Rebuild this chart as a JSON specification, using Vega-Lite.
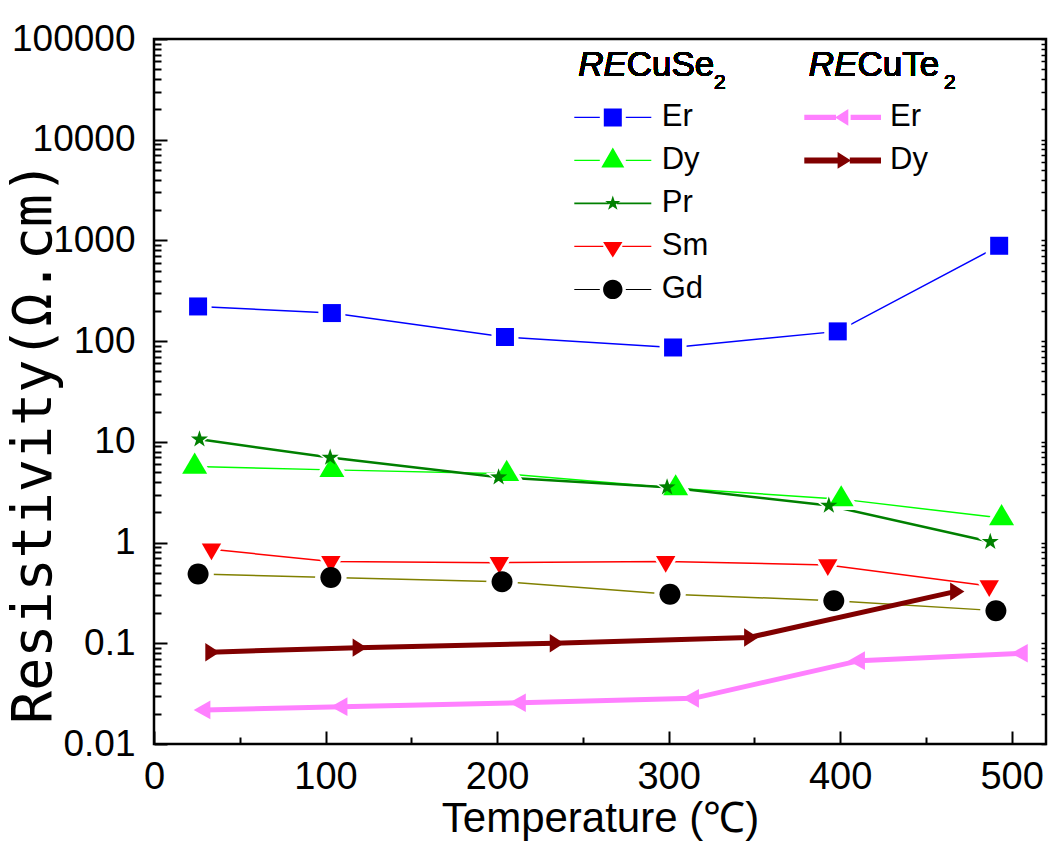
{
  "$schema": "https://vega.github.io/schema/vega-lite/v6.json",
  "width": 892,
  "height": 705,
  "autosize": {"type": "none"},
  "padding": {"left": 154, "top": 39, "right": 5, "bottom": 97},
  "background": "white",
  "config": {
    "view": {"stroke": "black", "strokeWidth": 2.5},
    "font": "Liberation Sans"
  },
  "data": {
    "values": [
      {"group": "Se", "element": "Er", "series": "Se-Er", "temp": 25.7, "rho": 221},
      {"group": "Se", "element": "Er", "series": "Se-Er", "temp": 103.7, "rho": 190},
      {"group": "Se", "element": "Er", "series": "Se-Er", "temp": 204.6, "rho": 110},
      {"group": "Se", "element": "Er", "series": "Se-Er", "temp": 302.6, "rho": 86.5},
      {"group": "Se", "element": "Er", "series": "Se-Er", "temp": 398.6, "rho": 125},
      {"group": "Se", "element": "Er", "series": "Se-Er", "temp": 492.7, "rho": 885},
      {"group": "Se", "element": "Dy", "series": "Se-Dy", "temp": 23.7, "rho": 5.69},
      {"group": "Se", "element": "Dy", "series": "Se-Dy", "temp": 103.7, "rho": 5.27},
      {"group": "Se", "element": "Dy", "series": "Se-Dy", "temp": 205.6, "rho": 4.81},
      {"group": "Se", "element": "Dy", "series": "Se-Dy", "temp": 304.1, "rho": 3.47},
      {"group": "Se", "element": "Dy", "series": "Se-Dy", "temp": 400.6, "rho": 2.7},
      {"group": "Se", "element": "Dy", "series": "Se-Dy", "temp": 494.1, "rho": 1.75},
      {"group": "Se", "element": "Pr", "series": "Se-Pr", "temp": 26.5, "rho": 10.6},
      {"group": "Se", "element": "Pr", "series": "Se-Pr", "temp": 102.7, "rho": 6.98},
      {"group": "Se", "element": "Pr", "series": "Se-Pr", "temp": 200.9, "rho": 4.46},
      {"group": "Se", "element": "Pr", "series": "Se-Pr", "temp": 299.1, "rho": 3.55},
      {"group": "Se", "element": "Pr", "series": "Se-Pr", "temp": 393.4, "rho": 2.33},
      {"group": "Se", "element": "Pr", "series": "Se-Pr", "temp": 487.5, "rho": 1.02},
      {"group": "Se", "element": "Sm", "series": "Se-Sm", "temp": 33.5, "rho": 0.859},
      {"group": "Se", "element": "Sm", "series": "Se-Sm", "temp": 103.1, "rho": 0.647},
      {"group": "Se", "element": "Sm", "series": "Se-Sm", "temp": 201.3, "rho": 0.632},
      {"group": "Se", "element": "Sm", "series": "Se-Sm", "temp": 298.3, "rho": 0.647},
      {"group": "Se", "element": "Sm", "series": "Se-Sm", "temp": 392.8, "rho": 0.6},
      {"group": "Se", "element": "Sm", "series": "Se-Sm", "temp": 486.9, "rho": 0.371},
      {"group": "Se", "element": "Gd", "series": "Se-Gd", "temp": 25.7, "rho": 0.488},
      {"group": "Se", "element": "Gd", "series": "Se-Gd", "temp": 103.1, "rho": 0.449},
      {"group": "Se", "element": "Gd", "series": "Se-Gd", "temp": 202.9, "rho": 0.409},
      {"group": "Se", "element": "Gd", "series": "Se-Gd", "temp": 300.8, "rho": 0.307},
      {"group": "Se", "element": "Gd", "series": "Se-Gd", "temp": 396.3, "rho": 0.265},
      {"group": "Se", "element": "Gd", "series": "Se-Gd", "temp": 490.8, "rho": 0.211},
      {"group": "Te", "element": "Er", "series": "Te-Er", "temp": 29.6, "rho": 0.0218},
      {"group": "Te", "element": "Er", "series": "Te-Er", "temp": 109.5, "rho": 0.0235},
      {"group": "Te", "element": "Er", "series": "Te-Er", "temp": 213.5, "rho": 0.0257},
      {"group": "Te", "element": "Er", "series": "Te-Er", "temp": 314.4, "rho": 0.0284},
      {"group": "Te", "element": "Er", "series": "Te-Er", "temp": 411.2, "rho": 0.0672},
      {"group": "Te", "element": "Er", "series": "Te-Er", "temp": 506.1, "rho": 0.0796},
      {"group": "Te", "element": "Dy", "series": "Te-Dy", "temp": 32.7, "rho": 0.0815},
      {"group": "Te", "element": "Dy", "series": "Te-Dy", "temp": 118.6, "rho": 0.0905},
      {"group": "Te", "element": "Dy", "series": "Te-Dy", "temp": 233.5, "rho": 0.1},
      {"group": "Te", "element": "Dy", "series": "Te-Dy", "temp": 346.8, "rho": 0.114},
      {"group": "Te", "element": "Dy", "series": "Te-Dy", "temp": 466.9, "rho": 0.326}
    ]
  },
  "resolve": {
    "scale": {"color": "independent", "shape": "independent"},
    "axis": {"y": "independent"}
  },
  "layer": [
    {
      "transform": [{"filter": "datum.group === 'Se' && datum.element !== 'Pr'"}],
      "mark": {"type": "line", "strokeWidth": 1.5},
      "encoding": {
        "x": {
          "field": "temp", "type": "quantitative",
          "scale": {"domain": [0, 520], "nice": false, "zero": false},
          "axis": {
            "orient": "bottom",
            "values": [0, 50, 100, 150, 200, 250, 300, 350, 400, 450, 500],
            "labelExpr": "datum.value % 100 === 0 ? datum.label : ''",
            "tickSize": {"condition": {"test": "datum.value % 100 === 0", "value": -13}, "value": -7},
            "tickWidth": 2, "tickColor": "black",
            "domain": false, "grid": false,
            "labelFont": "Liberation Sans", "labelFontSize": 38, "labelColor": "black",
            "labelBaseline": "alphabetic", "labelPadding": 57,
            "labelFlush": false, "labelOverlap": false,
            "title": "Temperature (℃)",
            "titleFont": "Liberation Sans", "titleFontSize": 42, "titleFontWeight": "normal",
            "titleColor": "black", "titleBaseline": "alphabetic", "titleY": 87
          }
        },
        "y": {
          "field": "rho", "type": "quantitative",
          "scale": {"type": "log", "domain": [0.01, 100000], "nice": false},
          "axis": {
            "orient": "left",
            "values": [0.01, 0.02, 0.03, 0.04, 0.05, 0.06, 0.07, 0.08, 0.09, 0.1, 0.2, 0.3, 0.4, 0.5, 0.6, 0.7, 0.8, 0.9, 1, 2, 3, 4, 5, 6, 7, 8, 9, 10, 20, 30, 40, 50, 60, 70, 80, 90, 100, 200, 300, 400, 500, 600, 700, 800, 900, 1000, 2000, 3000, 4000, 5000, 6000, 7000, 8000, 9000, 10000, 20000, 30000, 40000, 50000, 60000, 70000, 80000, 90000, 100000],
            "format": "~g",
            "labelExpr": "abs(log(datum.value)/LN10 - round(log(datum.value)/LN10)) < 0.001 ? datum.label : ''",
            "tickSize": {"condition": {"test": "abs(log(datum.value)/LN10 - round(log(datum.value)/LN10)) < 0.001", "value": -13}, "value": -7},
            "tickWidth": 2, "tickColor": "black",
            "domain": false, "grid": false,
            "labelFont": "Liberation Sans", "labelFontSize": 37, "labelColor": "black",
            "labelPadding": 32, "labelFlush": false, "labelOverlap": false,
            "title": "Resistivity(Ω.cm)",
            "titleFont": "DejaVu Sans Mono", "titleFontSize": 55, "titleFontWeight": "normal",
            "titleColor": "black", "titleAngle": -90, "titleBaseline": "alphabetic",
            "titleAlign": "center", "titleX": -104, "titleY": 403
          }
        },
        "color": {
          "field": "series", "type": "nominal", "legend": null,
          "scale": {
            "domain": ["Se-Er", "Se-Dy", "Se-Pr", "Se-Sm", "Se-Gd", "Te-Er", "Te-Dy"],
            "range": ["#0000ff", "#00ff00", "#008000", "#ff0000", "#808000", "#ff80ff", "#800000"]
          }
        }
      }
    },
    {
      "transform": [{"filter": "datum.series === 'Se-Pr'"}],
      "mark": {"type": "line", "strokeWidth": 2.5, "color": "#008000"},
      "encoding": {
        "x": {"field": "temp", "type": "quantitative"},
        "y": {"field": "rho", "type": "quantitative", "axis": null}
      }
    },
    {
      "transform": [{"filter": "datum.group === 'Se'"}],
      "mark": {"type": "point", "filled": true, "color": "white", "opacity": 1, "strokeWidth": 0, "size": 900},
      "encoding": {
        "x": {"field": "temp", "type": "quantitative"},
        "y": {"field": "rho", "type": "quantitative", "axis": null},
        "shape": {
          "field": "series", "type": "nominal", "legend": null,
          "scale": {
            "domain": ["Se-Er", "Se-Dy", "Se-Pr", "Se-Sm", "Se-Gd"],
            "range": [
              "M-0.9,-0.9H0.9V0.9H-0.9Z",
              "M0,-1.4L1.25,0.72H-1.25Z",
              "M0,-0.9L0.206,-0.283L0.856,-0.278L0.333,0.108L0.529,0.728L0,0.35L-0.529,0.728L-0.333,0.108L-0.856,-0.278L-0.206,-0.283Z",
              "M-0.97,-0.56H0.97L0,1.11Z",
              "M-1.05,0A1.05,1.05,0,1,1,1.05,0A1.05,1.05,0,1,1,-1.05,0Z"
            ]
          }
        }
      }
    },
    {
      "transform": [{"filter": "datum.group === 'Se'"}],
      "mark": {"type": "point", "filled": true, "opacity": 1, "strokeWidth": 0, "size": 400},
      "encoding": {
        "x": {"field": "temp", "type": "quantitative"},
        "y": {
          "field": "rho", "type": "quantitative",
          "axis": {
            "orient": "right",
            "values": [0.01, 0.02, 0.03, 0.04, 0.05, 0.06, 0.07, 0.08, 0.09, 0.1, 0.2, 0.3, 0.4, 0.5, 0.6, 0.7, 0.8, 0.9, 1, 2, 3, 4, 5, 6, 7, 8, 9, 10, 20, 30, 40, 50, 60, 70, 80, 90, 100, 200, 300, 400, 500, 600, 700, 800, 900, 1000, 2000, 3000, 4000, 5000, 6000, 7000, 8000, 9000, 10000, 20000, 30000, 40000, 50000, 60000, 70000, 80000, 90000, 100000],
            "labels": false, "tickSize": -5, "tickWidth": 1.5, "tickColor": "black",
            "domain": false, "grid": false, "title": null
          }
        },
        "shape": {
          "field": "series", "type": "nominal", "legend": null,
          "scale": {
            "domain": ["Se-Er", "Se-Dy", "Se-Pr", "Se-Sm", "Se-Gd"],
            "range": [
              "M-0.9,-0.9H0.9V0.9H-0.9Z",
              "M0,-1.4L1.25,0.72H-1.25Z",
              "M0,-0.9L0.206,-0.283L0.856,-0.278L0.333,0.108L0.529,0.728L0,0.35L-0.529,0.728L-0.333,0.108L-0.856,-0.278L-0.206,-0.283Z",
              "M-0.97,-0.56H0.97L0,1.11Z",
              "M-1.05,0A1.05,1.05,0,1,1,1.05,0A1.05,1.05,0,1,1,-1.05,0Z"
            ]
          }
        },
        "color": {
          "field": "series", "type": "nominal", "legend": null,
          "scale": {
            "domain": ["Se-Er", "Se-Dy", "Se-Pr", "Se-Sm", "Se-Gd"],
            "range": ["#0000ff", "#00ff00", "#008000", "#ff0000", "#000000"]
          }
        }
      }
    },
    {
      "transform": [{"filter": "datum.group === 'Te'"}],
      "mark": {"type": "line", "strokeWidth": 5},
      "encoding": {
        "x": {"field": "temp", "type": "quantitative"},
        "y": {"field": "rho", "type": "quantitative", "axis": null},
        "color": {
          "field": "series", "type": "nominal", "legend": null,
          "scale": {"domain": ["Te-Er", "Te-Dy"], "range": ["#ff80ff", "#800000"]}
        }
      }
    },
    {
      "transform": [{"filter": "datum.group === 'Te'"}],
      "mark": {"type": "point", "filled": true, "opacity": 1, "strokeWidth": 0, "size": 400},
      "encoding": {
        "x": {"field": "temp", "type": "quantitative"},
        "y": {"field": "rho", "type": "quantitative", "axis": null},
        "shape": {
          "field": "series", "type": "nominal", "legend": null,
          "scale": {
            "domain": ["Te-Er", "Te-Dy"],
            "range": ["M-1.11,0L0.56,-0.93V0.93Z", "M0.95,0L-0.48,-0.92V0.92Z"]
          }
        },
        "color": {
          "field": "series", "type": "nominal", "legend": null,
          "scale": {"domain": ["Te-Er", "Te-Dy"], "range": ["#ff80ff", "#800000"]}
        }
      }
    },
    {
      "transform": [{"filter": "datum.group === 'Se'"}],
      "mark": {"type": "point", "filled": true, "opacity": 0},
      "encoding": {
        "shape": {
          "field": "element", "type": "nominal",
          "scale": {
            "domain": ["Er", "Dy", "Pr", "Sm", "Gd"],
            "range": [
              "M-1.55,-0.06H1.0V0.06H-1.55Z M1.4,-0.9H3.2V0.9H1.4Z M3.6,-0.06H6.15V0.06H3.6Z",
              "M-1.55,-0.06H1.0V0.06H-1.55Z M2.3,-1.3L3.45,0.7H1.15Z M3.6,-0.06H6.15V0.06H3.6Z",
              "M-1.55,-0.09H1.9V0.09H-1.55Z M2.3,-0.8L2.48,-0.248L3.061,-0.247L2.591,0.095L2.77,0.647L2.3,0.306L1.83,0.647L2.009,0.095L1.539,-0.247L2.12,-0.248Z M2.7,-0.09H6.15V0.09H2.7Z",
              "M-1.55,-0.06H1.35V0.06H-1.55Z M1.33,-0.45H3.27L2.3,1.12Z M3.25,-0.06H6.15V0.06H3.25Z",
              "M-1.55,-0.05H1.0V0.05H-1.55Z M1.33,0A0.97,0.97,0,1,1,3.27,0A0.97,0.97,0,1,1,1.33,0Z M3.6,-0.05H6.15V0.05H3.6Z"
            ]
          },
          "legend": {
            "orient": "none", "legendX": 420.3, "legendY": 62.9, "title": null, "padding": 0,
            "symbolSize": 400, "symbolStrokeWidth": 0, "symbolOpacity": 1,
            "labelFont": "Liberation Sans", "labelFontSize": 31, "labelColor": "black",
            "labelOffset": 56.4, "rowPadding": 11
          }
        },
        "color": {
          "field": "element", "type": "nominal",
          "scale": {
            "domain": ["Er", "Dy", "Pr", "Sm", "Gd"],
            "range": ["#0000ff", "#00ff00", "#008000", "#ff0000", "#000000"]
          },
          "legend": {
            "orient": "none", "legendX": 420.3, "legendY": 62.9, "title": null, "padding": 0,
            "symbolSize": 400, "symbolStrokeWidth": 0, "symbolOpacity": 1,
            "labelFont": "Liberation Sans", "labelFontSize": 31, "labelColor": "black",
            "labelOffset": 56.4, "rowPadding": 11
          }
        }
      }
    },
    {
      "transform": [{"filter": "datum.group === 'Te'"}],
      "mark": {"type": "point", "filled": true, "opacity": 0},
      "encoding": {
        "shape": {
          "field": "element", "type": "nominal",
          "scale": {
            "domain": ["Er", "Dy"],
            "range": [
              "M-1.55,-0.27H1.62V0.27H-1.55Z M1.52,0L2.85,-0.83V0.83Z M3.08,-0.27H6.12V0.27H3.08Z",
              "M-1.55,-0.3H1.78V0.3H-1.55Z M1.78,-0.83L3.12,0L1.78,0.83Z M3.0,-0.3H6.12V0.3H3.0Z"
            ]
          },
          "legend": {
            "orient": "none", "legendX": 650.3, "legendY": 62.9, "title": null, "padding": 0,
            "symbolSize": 400, "symbolStrokeWidth": 0, "symbolOpacity": 1,
            "labelFont": "Liberation Sans", "labelFontSize": 31, "labelColor": "black",
            "labelOffset": 54.7, "rowPadding": 11
          }
        },
        "color": {
          "field": "element", "type": "nominal",
          "scale": {"domain": ["Er", "Dy"], "range": ["#ff80ff", "#800000"]},
          "legend": {
            "orient": "none", "legendX": 650.3, "legendY": 62.9, "title": null, "padding": 0,
            "symbolSize": 400, "symbolStrokeWidth": 0, "symbolOpacity": 1,
            "labelFont": "Liberation Sans", "labelFontSize": 31, "labelColor": "black",
            "labelOffset": 54.7, "rowPadding": 11
          }
        }
      }
    },
    {
      "mark": {"type": "text", "text": "RE", "font": "Liberation Sans", "fontSize": 35, "fontStyle": "italic", "align": "right", "baseline": "alphabetic", "color": "black"},
      "encoding": {
        "x": {"datum": 275.6, "type": "quantitative"},
        "y": {"datum": 42500, "type": "quantitative", "axis": null}
      }
    },
    {
      "mark": {"type": "text", "text": "CuSe", "font": "Liberation Sans", "fontSize": 35, "align": "left", "baseline": "alphabetic", "color": "black"},
      "encoding": {
        "x": {"datum": 275.6, "type": "quantitative"},
        "y": {"datum": 42500, "type": "quantitative", "axis": null}
      }
    },
    {
      "mark": {"type": "text", "text": "2", "font": "Liberation Sans", "fontSize": 21, "align": "left", "baseline": "alphabetic", "color": "black"},
      "encoding": {
        "x": {"datum": 326.5, "type": "quantitative"},
        "y": {"datum": 32000, "type": "quantitative", "axis": null}
      }
    },
    {
      "mark": {"type": "text", "text": "RE", "font": "Liberation Sans", "fontSize": 35, "fontStyle": "italic", "align": "right", "baseline": "alphabetic", "color": "black"},
      "encoding": {
        "x": {"datum": 410.1, "type": "quantitative"},
        "y": {"datum": 42500, "type": "quantitative", "axis": null}
      }
    },
    {
      "mark": {"type": "text", "text": "CuTe", "font": "Liberation Sans", "fontSize": 35, "align": "left", "baseline": "alphabetic", "color": "black"},
      "encoding": {
        "x": {"datum": 410.1, "type": "quantitative"},
        "y": {"datum": 42500, "type": "quantitative", "axis": null}
      }
    },
    {
      "mark": {"type": "text", "text": "2", "font": "Liberation Sans", "fontSize": 21, "align": "left", "baseline": "alphabetic", "color": "black"},
      "encoding": {
        "x": {"datum": 460.5, "type": "quantitative"},
        "y": {"datum": 32000, "type": "quantitative", "axis": null}
      }
    }
  ]
}
